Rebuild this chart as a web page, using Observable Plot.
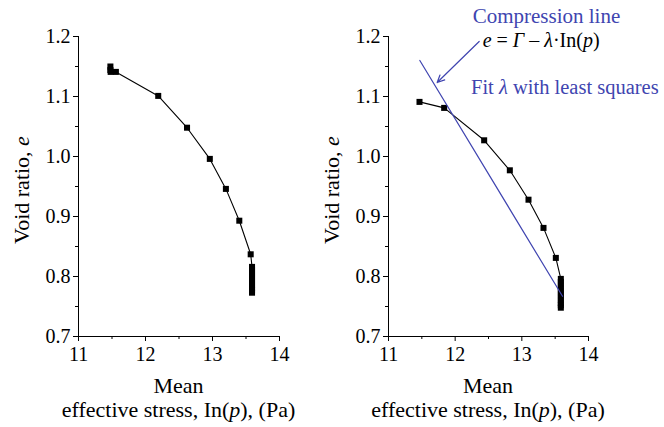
<!DOCTYPE html>
<html>
<head>
<meta charset="utf-8">
<script src="https://cdn.jsdelivr.net/npm/d3@7"></script>
<script src="https://cdn.jsdelivr.net/npm/@observablehq/plot@0.6"></script>
<style>
  html, body { margin: 0; padding: 0; background: #fff; }
  #wrap { position: relative; width: 664px; height: 427px; overflow: hidden; background: #fff; }
  #wrap svg { position: absolute; top: 0; max-width: none; }
</style>
</head>
<body>
<div id="wrap"></div>
<script>
// ---- data ----
const leftLn = [11.476, 11.476, 11.48, 11.558, 12.19, 12.62, 12.96, 13.20, 13.40, 13.57,
                13.59, 13.59, 13.59, 13.59, 13.59, 13.59, 13.59, 13.59, 13.59, 13.59];
const leftE  = [1.150, 1.144, 1.141, 1.141, 1.101, 1.048, 0.996, 0.946, 0.893, 0.837,
                0.816, 0.811, 0.806, 0.801, 0.796, 0.791, 0.786, 0.781, 0.777, 0.773];

const rightLn = [11.465, 11.835, 12.435, 12.82, 13.10, 13.325, 13.51,
                 13.585, 13.585, 13.585, 13.585, 13.585, 13.585, 13.585, 13.585, 13.585, 13.585, 13.585];
const rightE  = [1.091, 1.081, 1.027, 0.977, 0.928, 0.881, 0.831,
                 0.796, 0.791, 0.786, 0.781, 0.776, 0.771, 0.766, 0.761, 0.756, 0.752, 0.748];

// fitted compression line end points
const fitLn = [11.47, 13.61];
const fitE  = [1.160, 0.767];

const xTicks = [11, 12, 13, 14];
const xMinor = [11.5, 12.5, 13.5];
const yTicks = [0.7, 0.8, 0.9, 1.0, 1.1, 1.2];
const yMinor = [0.75, 0.85, 0.95, 1.05, 1.15];

const xDomain = [11, 14];
const yDomain = [0.7, 1.2];

const yTitle = ["Void ratio, ", "e"];
const xTitle1 = "Mean";
const xTitle2 = ["effective stress, In(", "p", "), (Pa)"];

const blue = "#4045b0";
const serif = "'Liberation Serif', 'Times New Roman', serif";

function makePanel(ln, e, opts) {
  const data = ln.map((x, i) => ({x, e: e[i]}));
  const marks = [
    Plot.ruleX([xDomain[0]], {stroke: "black", strokeWidth: 1}),
    Plot.ruleY([yDomain[0]], {stroke: "black", strokeWidth: 1}),
    Plot.axisY({ticks: yTicks, tickSize: 5, tickPadding: 3, tickFormat: d3.format(".1f"), label: null, fontSize: 20, fontFamily: serif}),
    Plot.axisY({ticks: yMinor, tickSize: 3, tickFormat: () => "", label: null}),
    Plot.axisX({ticks: xTicks, tickSize: 5, tickPadding: 5, tickFormat: d3.format("d"), label: null, fontSize: 20, fontFamily: serif}),
    Plot.axisX({ticks: xMinor, tickSize: 3, tickFormat: () => "", label: null}),
    Plot.line(data, {x: "x", y: "e", stroke: "black", strokeWidth: 1.1}),
    Plot.dot(data, {x: "x", y: "e", symbol: "square", r: 3.4, fill: "black", stroke: "none"}),
    ...(opts.extra || [])
  ];
  const chart = Plot.plot({
    width: opts.width,
    height: 427,
    marginLeft: opts.marginLeft,
    marginRight: opts.marginRight,
    marginTop: 36,
    marginBottom: 91,
    x: {domain: xDomain},
    y: {domain: yDomain},
    style: {fontFamily: serif, fontSize: "20px", color: "black", background: "white", overflow: "visible"},
    marks
  });
  chart.style.left = opts.left + "px";
  const svg = d3.select(chart);
  svg.selectAll("text").attr("font-family", serif);
  const xs = chart.scale("x"), ys = chart.scale("y");
  const x0 = xs.apply(xDomain[0]), x1 = xs.apply(xDomain[1]);
  const yTop = ys.apply(yDomain[1]), yBot = ys.apply(yDomain[0]);
  const cx = (x0 + x1) / 2;

  // y title
  const yt = svg.append("text")
    .attr("transform", `translate(${x0 - 49},${(yTop + yBot) / 2 + 4}) rotate(-90)`)
    .attr("text-anchor", "middle")
    .attr("font-family", serif).attr("font-size", 22).attr("fill", "black");
  yt.append("tspan").text(yTitle[0]);
  yt.append("tspan").attr("font-style", "italic").text(yTitle[1]);

  // x title
  svg.append("text").attr("x", cx).attr("y", yBot + 57)
    .attr("text-anchor", "middle").attr("font-family", serif).attr("font-size", 22)
    .attr("fill", "black").text(xTitle1);
  const xt = svg.append("text").attr("x", cx).attr("y", yBot + 81)
    .attr("text-anchor", "middle").attr("font-family", serif).attr("font-size", 22).attr("fill", "black");
  xt.append("tspan").text(xTitle2[0]);
  xt.append("tspan").attr("font-style", "italic").text(xTitle2[1]);
  xt.append("tspan").text(xTitle2[2]);
  return {chart, svg, xs, ys};
}

const wrap = document.getElementById("wrap");

// left panel
const L = makePanel(leftLn, leftE, {width: 300, left: 0, marginLeft: 78, marginRight: 21});
wrap.appendChild(L.chart);

// right panel annotations (positions in data units)
const fitData = fitLn.map((x, i) => ({x, e: fitE[i]}));
const arrowData = [{x1: 12.36, y1: 1.1917, x2: 11.73, y2: 1.1233}];
const R = makePanel(rightLn, rightE, {
  width: 364, left: 300, marginLeft: 88, marginRight: 76,
  extra: [
    Plot.line(fitData, {x: "x", y: "e", stroke: blue, strokeWidth: 1.2}),
    Plot.arrow(arrowData, {x1: "x1", y1: "y1", x2: "x2", y2: "y2", stroke: blue, strokeWidth: 1.2, headLength: 10, headAngle: 50})
  ]
});
wrap.appendChild(R.chart);

const annoCompression = {x: 12.27, e: 1.2217, text: "Compression line"};
const annoEq = {x: 12.42, e: 1.1817};
const annoFit = {x: 12.245, e: 1.1028};

R.svg.append("text")
  .attr("x", R.xs.apply(annoCompression.x)).attr("y", R.ys.apply(annoCompression.e))
  .attr("text-anchor", "start")
  .attr("font-family", serif).attr("font-size", 21).attr("fill", blue)
  .text(annoCompression.text);

const eq = R.svg.append("text")
  .attr("x", R.xs.apply(annoEq.x)).attr("y", R.ys.apply(annoEq.e))
  .attr("text-anchor", "start")
  .attr("font-family", serif).attr("font-size", 20).attr("fill", "black");
eq.append("tspan").attr("font-style", "italic").text("e");
eq.append("tspan").text(" = ");
eq.append("tspan").attr("font-style", "italic").text("Γ");
eq.append("tspan").text(" – ");
eq.append("tspan").attr("font-style", "italic").text("λ");
eq.append("tspan").text("·In(");
eq.append("tspan").attr("font-style", "italic").text("p");
eq.append("tspan").text(")");

const fit = R.svg.append("text")
  .attr("x", R.xs.apply(annoFit.x)).attr("y", R.ys.apply(annoFit.e))
  .attr("text-anchor", "start")
  .attr("font-family", serif).attr("font-size", 20.5).attr("fill", blue);
fit.append("tspan").text("Fit ");
fit.append("tspan").attr("font-style", "italic").text("λ");
fit.append("tspan").text(" with least squares");
</script>
</body>
</html>
